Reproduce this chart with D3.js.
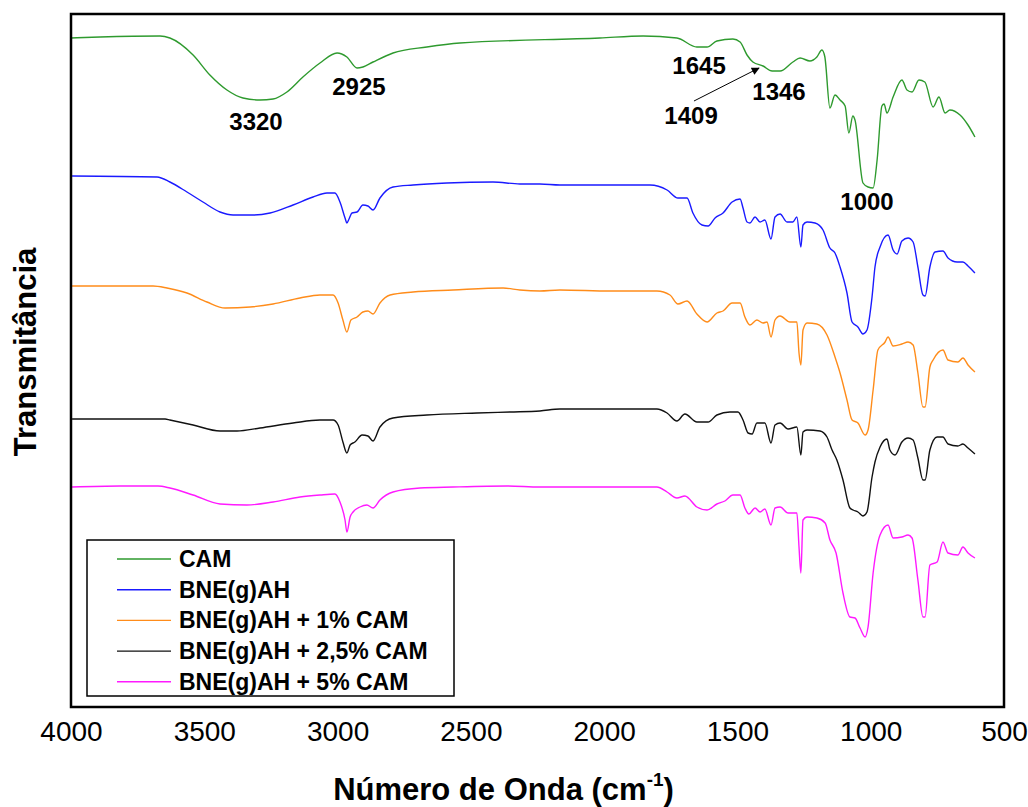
<!DOCTYPE html>
<html>
<head>
<meta charset="utf-8">
<script src="https://cdn.jsdelivr.net/npm/d3@7"></script>
<style>
  body { margin: 0; background: #fff; }
  svg { font-family: "Liberation Sans", Arial, sans-serif; }
</style>
</head>
<body>
<div id="chart"></div>
<script>
const width = 1028;
const height = 807;
const margin = { left: 71, right: 24, top: 14, bottom: 100 };

// spectra: [wavenumber (cm-1), transmittance (offset, a.u.)]
const cam = [
  [4000, 669], [3891, 670], [3666, 671], [3629, 669], [3542, 652], [3479, 632], [3415, 617],
  [3355, 609], [3291, 607], [3242, 608], [3190, 615], [3130, 630], [3066, 644], [3002, 654],
  [2965, 650], [2927, 639], [2905, 640], [2867, 645], [2792, 654], [2665, 660], [2541, 664],
  [2016, 669], [1854, 671], [1727, 669], [1652, 660], [1614, 660], [1577, 666], [1517, 668],
  [1490, 665], [1464, 652], [1442, 645], [1404, 641], [1370, 636], [1340, 636], [1292, 645],
  [1265, 649], [1228, 646], [1202, 650], [1183, 657], [1172, 650], [1153, 599], [1134, 612],
  [1115, 607], [1096, 601], [1082, 574], [1067, 591], [1059, 587], [1029, 524], [1010, 520],
  [991, 519], [976, 547], [958, 601], [950, 603], [939, 594], [916, 610], [883, 627],
  [864, 617], [845, 615], [819, 627], [797, 625], [766, 600], [744, 610], [721, 594],
  [703, 597], [665, 592], [635, 582], [609, 570]
];

const bne = [
  [3996, 531], [3677, 530], [3629, 525], [3565, 515], [3505, 505], [3441, 495], [3392, 492],
  [3317, 492], [3253, 494], [3167, 502], [3092, 510], [3040, 514], [3010, 514], [2991, 505],
  [2972, 489], [2965, 484], [2957, 488], [2946, 494], [2927, 495], [2905, 502], [2886, 501],
  [2867, 497], [2841, 509], [2792, 520], [2717, 522], [2590, 524], [2417, 525], [2316, 523],
  [2241, 523], [2166, 522], [1978, 522], [1828, 522], [1764, 517], [1723, 509], [1689, 509],
  [1667, 494], [1633, 482], [1610, 481], [1584, 489], [1554, 494], [1520, 505], [1490, 508],
  [1479, 499], [1464, 485], [1453, 484], [1434, 490], [1415, 485], [1397, 487], [1374, 468],
  [1359, 490], [1340, 493], [1314, 485], [1292, 485], [1277, 490], [1262, 460], [1254, 482],
  [1239, 485], [1209, 484], [1179, 477], [1153, 459], [1134, 454], [1115, 440], [1089, 414],
  [1070, 385], [1048, 380], [1029, 373], [1014, 377], [995, 410], [984, 440], [965, 460],
  [935, 472], [916, 457], [901, 453], [883, 466], [860, 469], [841, 465], [823, 440],
  [804, 412], [796, 411], [778, 440], [759, 455], [729, 456], [710, 449], [676, 445],
  [654, 445], [635, 441], [609, 434]
];

const bne1 = [
  [3996, 421], [3692, 421], [3640, 419], [3565, 414], [3490, 405], [3422, 399], [3328, 400],
  [3242, 403], [3141, 409], [3066, 412], [3017, 412], [2998, 404], [2980, 387], [2965, 375],
  [2950, 387], [2927, 390], [2905, 395], [2886, 396], [2867, 393], [2841, 404], [2803, 412],
  [2717, 415], [2567, 417], [2379, 419], [2316, 417], [2241, 416], [2166, 417], [1978, 416],
  [1802, 416], [1753, 412], [1723, 403], [1689, 406], [1652, 393], [1614, 385], [1577, 394],
  [1554, 396], [1520, 404], [1490, 404], [1472, 390], [1453, 382], [1427, 387], [1404, 384],
  [1389, 385], [1374, 370], [1359, 387], [1340, 391], [1303, 385], [1277, 385], [1269, 354],
  [1262, 342], [1254, 377], [1239, 384], [1202, 383], [1164, 372], [1134, 350], [1115, 334],
  [1089, 307], [1070, 287], [1048, 284], [1021, 272], [1010, 277], [991, 317], [973, 357],
  [946, 365], [935, 370], [916, 361], [883, 363], [860, 365], [841, 362], [823, 334],
  [804, 300], [796, 300], [778, 340], [766, 347], [729, 357], [710, 347], [673, 345],
  [654, 349], [635, 342], [609, 335]
];

const bne25 = [
  [3996, 288], [3647, 288], [3629, 287], [3542, 282], [3441, 276], [3377, 276], [3291, 279],
  [3167, 284], [3066, 287], [3017, 287], [2998, 282], [2980, 265], [2965, 254], [2953, 262],
  [2935, 265], [2908, 272], [2886, 271], [2867, 266], [2841, 280], [2792, 289], [2665, 292],
  [2477, 294], [2353, 295], [2241, 296], [2166, 298], [2042, 298], [1914, 298], [1802, 298],
  [1764, 294], [1727, 286], [1697, 293], [1652, 285], [1610, 285], [1577, 292], [1528, 295],
  [1498, 295], [1479, 287], [1460, 274], [1445, 273], [1427, 284], [1397, 284], [1374, 264],
  [1359, 282], [1340, 284], [1310, 278], [1277, 280], [1262, 252], [1254, 275], [1239, 277],
  [1190, 276], [1164, 270], [1145, 257], [1127, 247], [1104, 227], [1078, 199], [1066, 197],
  [1048, 195], [1029, 191], [1014, 195], [995, 230], [984, 245], [965, 260], [939, 268],
  [928, 257], [909, 252], [883, 265], [860, 269], [841, 267], [823, 249], [804, 227],
  [796, 227], [778, 257], [751, 270], [729, 270], [710, 263], [673, 261], [654, 263],
  [635, 259], [609, 253]
];

const bne5 = [
  [3996, 220], [3816, 221], [3674, 221], [3629, 219], [3542, 212], [3441, 203], [3340, 202],
  [3242, 205], [3141, 210], [3066, 212], [3010, 213], [2991, 205], [2972, 187], [2965, 175],
  [2953, 190], [2942, 195], [2916, 200], [2890, 202], [2867, 199], [2841, 207], [2792, 215],
  [2691, 219], [2567, 220], [2364, 221], [2241, 220], [2166, 220], [1978, 220], [1802, 220],
  [1764, 215], [1727, 209], [1697, 211], [1652, 200], [1614, 197], [1577, 203], [1547, 206],
  [1517, 212], [1490, 212], [1472, 199], [1457, 193], [1434, 199], [1415, 195], [1397, 198],
  [1374, 182], [1359, 199], [1340, 200], [1310, 194], [1277, 194], [1269, 160], [1262, 134],
  [1254, 187], [1239, 190], [1202, 189], [1171, 184], [1153, 167], [1130, 154], [1104, 114],
  [1078, 90], [1059, 89], [1040, 79], [1021, 70], [1010, 80], [991, 134], [965, 172],
  [935, 182], [916, 169], [883, 170], [860, 172], [845, 169], [823, 127], [804, 90],
  [796, 90], [778, 142], [751, 145], [729, 165], [710, 154], [673, 152], [654, 160],
  [635, 154], [609, 149]
];

const seriesNames = ["CAM", "BNE(g)AH", "BNE(g)AH + 1% CAM", "BNE(g)AH + 2,5% CAM", "BNE(g)AH + 5% CAM"];
const seriesColors = ["#2e9a2e", "#1a1aff", "#ff8c1a", "#111111", "#ff1aff"];
const seriesData = [cam, bne, bne1, bne25, bne5];

const xTicks = [4000, 3500, 3000, 2500, 2000, 1500, 1000, 500];

// peak labels on the CAM spectrum: [text, wavenumber, y]
const peakLabels = [
  ["3320", 3306, 585], ["2925", 2920, 620], ["1645", 1644, 641],
  ["1409", 1674, 591], ["1346", 1344, 615], ["1000", 1014, 505]
];
const arrowFrom = [1663, 606];
const arrowTo = [1419, 639];

const svg = d3.select("#chart").append("svg")
  .attr("width", width)
  .attr("height", height);

const x = d3.scaleLinear()
  .domain([4000, 500])
  .range([margin.left, width - margin.right]);

const y = d3.scaleLinear()
  .domain([0, 693])
  .range([height - margin.bottom, margin.top]);

const plotW = width - margin.left - margin.right;
const plotH = height - margin.top - margin.bottom;

// x axis (labels only, no ticks)
const axisX = d3.axisBottom(x)
  .tickValues(xTicks)
  .tickFormat(d3.format("d"))
  .tickSize(0)
  .tickPadding(14);
const gx = svg.append("g")
  .attr("transform", "translate(0," + (height - margin.bottom) + ")")
  .call(axisX);
gx.select(".domain").remove();
gx.selectAll("text")
  .attr("font-size", 28)
  .attr("font-family", "Liberation Sans, Arial, sans-serif")
  .attr("fill", "#000");

const line = d3.line()
  .x((d) => x(d[0]))
  .y((d) => y(d[1]))
  .curve(d3.curveMonotoneX);

svg.append("g")
  .selectAll("path")
  .data(seriesData)
  .enter()
  .append("path")
  .attr("d", line)
  .attr("fill", "none")
  .attr("stroke", (d, i) => seriesColors[i])
  .attr("stroke-width", 1.4)
  .attr("stroke-linejoin", "round");

// frame
svg.append("rect")
  .attr("x", margin.left)
  .attr("y", margin.top)
  .attr("width", plotW)
  .attr("height", plotH)
  .attr("fill", "none")
  .attr("stroke", "#000")
  .attr("stroke-width", 2.5);

// peak annotations
svg.append("g")
  .selectAll("text")
  .data(peakLabels)
  .enter()
  .append("text")
  .attr("x", (d) => x(d[1]))
  .attr("y", (d) => y(d[2]))
  .attr("text-anchor", "middle")
  .attr("dy", "0.35em")
  .attr("font-size", 24)
  .attr("font-weight", "bold")
  .text((d) => d[0]);

svg.append("defs").append("marker")
  .attr("id", "arrowhead")
  .attr("viewBox", "0 0 10 10")
  .attr("refX", 9)
  .attr("refY", 5)
  .attr("markerWidth", 11)
  .attr("markerHeight", 8)
  .attr("markerUnits", "userSpaceOnUse")
  .attr("orient", "auto")
  .append("path")
  .attr("d", "M0,0 L10,5 L0,10 z")
  .attr("fill", "#000");

svg.append("line")
  .attr("x1", x(arrowFrom[0]))
  .attr("y1", y(arrowFrom[1]))
  .attr("x2", x(arrowTo[0]))
  .attr("y2", y(arrowTo[1]))
  .attr("stroke", "#000")
  .attr("stroke-width", 1)
  .attr("marker-end", "url(#arrowhead)");

// legend
const legend = svg.append("g").attr("transform", "translate(87,540)");
legend.append("rect")
  .attr("width", 367)
  .attr("height", 156)
  .attr("fill", "#fff")
  .attr("stroke", "#000")
  .attr("stroke-width", 1.5);

const rows = legend.selectAll("g.row")
  .data(seriesNames)
  .enter()
  .append("g")
  .attr("class", "row")
  .attr("transform", (d, i) => "translate(0," + (19 + i * 30.7) + ")");

rows.append("line")
  .attr("x1", 30)
  .attr("x2", 84)
  .attr("stroke", (d, i) => seriesColors[i])
  .attr("stroke-width", 1.4);

rows.append("text")
  .attr("x", 92)
  .attr("dy", "0.35em")
  .attr("font-size", 23)
  .attr("font-weight", "bold")
  .text((d) => d);

// axis titles
const xTitle = svg.append("text")
  .attr("x", x(2250) - 34)
  .attr("y", 800)
  .attr("text-anchor", "middle")
  .attr("font-size", 31)
  .attr("font-weight", "bold");
xTitle.append("tspan").text("Número de Onda (cm");
xTitle.append("tspan").attr("font-size", 19).attr("dy", -14).text("-1");
xTitle.append("tspan").attr("dy", 14).text(")");

svg.append("text")
  .attr("transform", "translate(36," + 352 + ") rotate(-90)")
  .attr("text-anchor", "middle")
  .attr("font-size", 31)
  .attr("font-weight", "bold")
  .text("Transmitância");
</script>
</body>
</html>
